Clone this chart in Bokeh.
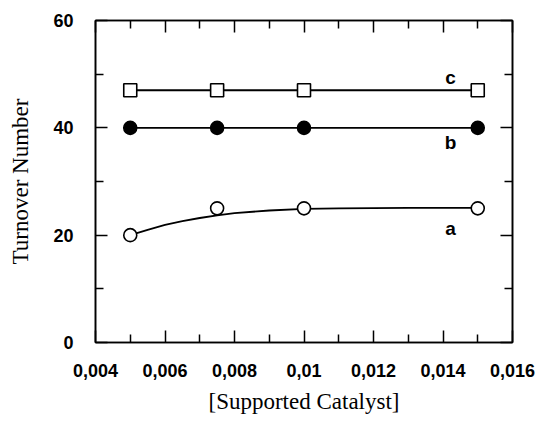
from bokeh.plotting import figure
from bokeh.models import Range1d, LinearAxis, FixedTicker
from bokeh.embed import file_html
from bokeh.resources import INLINE
from bokeh.core.properties import value

# data
x_pts = [0.005, 0.0075, 0.01, 0.015]
a_vals = [20, 25, 25, 25]
b_vals = [40, 40, 40, 40]
c_vals = [47, 47, 47, 47]

# fitted curve for series a
a_fit_x = [0.005, 0.0055, 0.006, 0.0065, 0.007, 0.0075, 0.008, 0.009, 0.010, 0.011, 0.012, 0.013, 0.015]
a_fit_y = [20.0, 21.0, 21.9, 22.6, 23.2, 23.7, 24.1, 24.6, 24.9, 25.0, 25.05, 25.1, 25.1]

x_major = [0.004, 0.006, 0.008, 0.010, 0.012, 0.014, 0.016]
x_minor = [0.005, 0.007, 0.009, 0.011, 0.013, 0.015]
x_labels = ["0,004", "0,006", "0,008", "0,01", "0,012", "0,014", "0,016"]
y_major = [0, 20, 40, 60]
y_minor = [10, 30, 50]
y_labels = ["0", "20", "40", "60"]

series_labels = ["a", "b", "c"]
label_x = [0.01422, 0.01422, 0.01422]
label_y = [21.2, 37.3, 49.4]

p = figure(width=538, height=421, output_backend="svg", toolbar_location=None,
           x_range=Range1d(0.004, 0.016), y_range=Range1d(0, 60),
           min_border_left=95, min_border_right=26, min_border_top=20, min_border_bottom=79)
p.grid.visible = False
p.outline_line_color = "black"
p.outline_line_width = 1.5
p.background_fill_color = "white"
p.border_fill_color = "white"

xt = FixedTicker(ticks=x_major, minor_ticks=x_minor)
yt = FixedTicker(ticks=y_major, minor_ticks=y_minor)

def style(ax):
    ax.axis_line_width = 1.6
    ax.axis_line_color = "black"
    ax.major_tick_in = 12
    ax.major_tick_out = 0
    ax.minor_tick_in = 8
    ax.minor_tick_out = 0
    ax.major_tick_line_width = 1.5
    ax.minor_tick_line_width = 1.5
    ax.major_tick_line_color = "black"
    ax.minor_tick_line_color = "black"
    ax.major_label_text_font = "Liberation Sans"
    ax.major_label_text_font_size = "18px"
    ax.major_label_text_font_style = "bold"
    ax.major_label_text_color = "black"

xa = p.xaxis[0]
xa.ticker = xt
style(xa)
xa.major_label_overrides = {t: l for t, l in zip(x_major, x_labels)}
xa.major_label_standoff = 21
xa.axis_label = "[Supported Catalyst]"
xa.axis_label_text_font = "Liberation Serif"
xa.axis_label_text_font_size = "23px"
xa.axis_label_text_font_style = "normal"
xa.axis_label_text_color = "black"
xa.axis_label_standoff = 9

ya = p.yaxis[0]
ya.ticker = yt
style(ya)
ya.major_label_overrides = {t: l for t, l in zip(y_major, y_labels)}
ya.major_label_standoff = 22
ya.axis_label = "Turnover Number"
ya.axis_label_text_font = "Liberation Serif"
ya.axis_label_text_font_size = "23px"
ya.axis_label_text_font_style = "normal"
ya.axis_label_text_color = "black"
ya.axis_label_standoff = 17

ra = LinearAxis(ticker=yt)
style(ra)
ra.major_label_overrides = {t: "" for t in y_major}
p.add_layout(ra, "right")
ta = LinearAxis(ticker=xt)
style(ta)
ta.major_label_overrides = {t: "" for t in x_major}
p.add_layout(ta, "above")

# lines
p.line(a_fit_x, a_fit_y, line_color="black", line_width=1.8)
p.line(x_pts, b_vals, line_color="black", line_width=1.8)
p.line(x_pts, c_vals, line_color="black", line_width=1.8)

# markers
p.scatter(x_pts, a_vals, marker="circle", size=13, fill_color="white", line_color="black", line_width=1.6)
p.scatter(x_pts, b_vals, marker="circle", size=13, fill_color="black", line_color="black", line_width=1.6)
p.scatter(x_pts, c_vals, marker="square", size=13, fill_color="white", line_color="black", line_width=1.6)

p.text(label_x, label_y, text=series_labels, text_font=value("Liberation Sans"),
       text_font_size="19px", text_font_style="bold", text_align="center",
       text_baseline="middle", text_color="black")

open("out.html", "w").write(file_html(p, INLINE))
